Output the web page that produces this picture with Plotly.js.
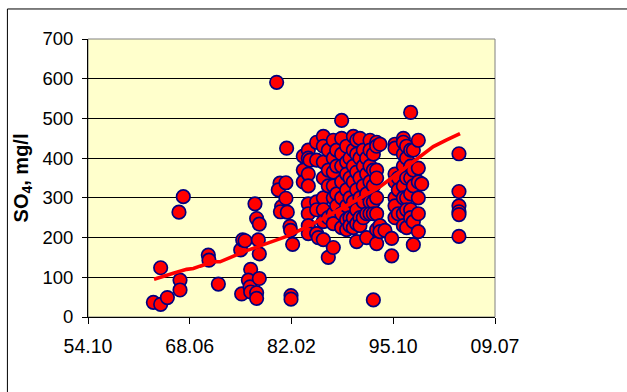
<!DOCTYPE html>
<html>
<head>
<meta charset="utf-8">
<script src="https://cdn.plot.ly/plotly-3.0.1.min.js"></script>
<style>
html,body{margin:0;padding:0;background:#fff;}
#chart{width:627px;height:392px;}
</style>
</head>
<body>
<div id="chart"></div>
<script>
// Sample dates (decimal years) and SO4 concentrations (mg/l)
const sampleYears = [
  1963.53,1964.51,1965.41,1964.51,1967.11,1967.11,1966.97,1967.55,1970.91,1971.00,
  1972.26,1975.26,1975.53,1975.84,1975.39,1976.60,1976.29,1976.51,1976.60,1977.18,
  1977.40,1977.76,1977.63,1977.76,1977.76,1977.40,1977.40,1980.09,1980.54,1980.31,
  1980.76,1980.60,1981.43,1981.34,1981.34,1981.52,1981.88,1981.97,1982.24,1982.02,
  1982.02,
  1983.67,1983.67,1983.67,
  1984.34,1984.34,1984.34,1984.34,1984.34,1984.34,1984.34,1984.34,1984.57,
  1985.46,1985.46,1985.46,1985.46,1985.46,1985.69,
  1986.36,1986.36,1986.36,1986.36,1986.36,1986.36,1986.36,1986.36,
  1987.03,1987.03,1987.03,1987.03,1987.03,
  1987.70,1987.70,1987.70,1987.70,1987.70,1987.70,1987.70,1987.70,
  1988.15,1988.15,1988.15,1988.15,
  1988.82,1988.82,1988.82,1988.82,1988.82,1988.82,1988.82,1988.82,
  1989.49,1989.49,1989.49,1989.49,1989.49,1989.49,1989.49,
  1989.94,1989.94,1989.94,1989.94,1989.94,
  1990.39,1990.39,1990.39,1990.39,1990.39,1990.39,1990.39,
  1990.84,1990.84,1990.84,1990.84,1990.84,1990.84,1990.84,
  1991.28,1991.28,1991.28,1991.28,1991.28,1991.28,
  1991.73,1991.73,1991.73,1991.73,1991.73,
  1992.18,1992.18,1992.18,1992.18,1992.18,
  1992.63,1992.63,1992.63,1992.63,1992.63,1992.63,
  1993.08,1993.08,1993.08,1993.08,1993.08,1993.08,
  1993.52,1993.52,1993.52,1993.52,1993.52,1993.52,1993.52,1993.52,
  1993.97,1993.97,1993.97,1994.64,
  1995.54,1995.54,
  1995.99,1995.99,1995.99,1995.99,1995.99,1995.99,1995.99,
  1996.43,1996.43,1996.43,
  1997.11,1997.11,1997.11,1997.11,1997.11,1997.11,1997.11,1997.11,
  1997.55,1997.55,1997.55,1997.55,1997.55,1997.55,
  1998.09,1998.09,1998.09,1998.09,1998.09,1998.09,1998.09,
  1998.45,1998.45,1998.45,1998.45,1998.45,
  1999.12,1999.12,1999.12,1999.12,1999.12,1999.12,1999.57,
  2004.58,2004.58,2004.58,2004.58,2004.58,2004.58
];
const so4Values = [
  37,32,49,124,93,68,264,303,156,143,
  83,169,194,192,58,120,93,76,63,285,
  248,234,194,159,97,61,47,591,337,320,
  278,265,425,338,299,264,228,218,183,54,
  45,
  405,370,340,
  420,400,360,330,285,260,230,210,395,
  440,395,290,270,210,200,
  455,430,390,350,300,270,240,195,
  420,370,330,250,150,
  445,400,365,330,300,260,235,175,
  420,380,310,280,
  495,450,410,380,340,300,260,225,
  430,390,360,320,280,245,220,
  400,350,300,250,230,
  455,420,380,340,290,250,225,
  445,410,365,320,270,235,190,
  450,400,350,300,250,230,
  420,380,330,290,250,
  400,360,310,260,200,
  445,420,380,340,290,260,
  410,370,330,290,260,43,
  440,430,370,350,300,260,220,185,
  435,230,215,218,
  198,154,
  435,425,360,340,300,280,250,
  350,320,260,
  450,440,410,380,330,300,260,230,
  430,400,350,300,270,225,
  515,420,380,350,310,270,250,
  420,370,330,240,182,
  445,375,340,300,260,215,335,
  411,316,280,265,258,203
];

// Trend line
const trendYears = [1963.62,1964.87,1966.21,1968.00,1968.90,1969.79,1971.58,1972.48,1974.27,1976.06,
  1977.85,1979.64,1981.43,1983.23,1985.02,1986.81,1988.60,1990.39,1992.18,1993.97,
  1995.76,1997.55,1999.34,2001.13,2002.93,2004.72];
const trendValues = [95,103,110,120,122,128,139,139,154,167,
  179,190,203,219,235,253,271,290,307,328,
  353,379,404,429,446,462];

// Axis ticks
const xStart = 1954.75, xEnd = 2009.42;
const xTickVals = [1954.75,1968.42,1982.08,1995.75,2009.42];
const xTickText = ["54.10","68.06","82.02","95.10","09.07"];
const yTickVals = [0,100,200,300,400,500,600,700];

const font = "Liberation Sans, Arial, sans-serif";

const traces = [
  {
    x: sampleYears, y: so4Values, type: "scatter", mode: "markers",
    marker: {size: 13.5, color: "#FF0000", line: {color: "#000080", width: 1.7}},
    hoverinfo: "x+y", cliponaxis: false
  },
  {
    x: trendYears, y: trendValues, type: "scatter", mode: "lines",
    line: {color: "#FF0000", width: 3.6}, hoverinfo: "skip"
  }
];

const layout = {
  width: 627, height: 392,
  margin: {l: 88, r: 132, t: 39, b: 75},
  paper_bgcolor: "#FFFFFF",
  plot_bgcolor: "#FFFFCC",
  showlegend: false,
  font: {family: font, color: "#000000"},
  xaxis: {
    range: [xStart, xEnd], tickmode: "array", tickvals: xTickVals, ticktext: xTickText,
    showgrid: false, zeroline: false, showline: true, linecolor: "#000000", linewidth: 1,
    ticks: "outside", ticklen: 6, tickcolor: "#000000", tickwidth: 1,
    tickfont: {family: font, size: 19.5, color: "#000000"}, ticklabelstandoff: 6
  },
  yaxis: {
    range: [0, 700], tickmode: "array", tickvals: yTickVals,
    showgrid: true, gridcolor: "#000000", gridwidth: 1, zeroline: false,
    showline: true, linecolor: "#000000", linewidth: 1,
    ticks: "outside", ticklen: 5, tickcolor: "#000000", tickwidth: 1,
    tickfont: {family: font, size: 18.5, color: "#000000"}, ticklabelstandoff: 5,
    title: {text: "<b>SO<sub>4</sub>, mg/l</b>", font: {family: font, size: 20, color: "#000000"}, standoff: 8}
  },
  shapes: [
    {type: "rect", xref: "paper", yref: "paper", x0: 0, x1: 1, y0: 0, y1: 1,
     line: {color: "#808080", width: 1}, layer: "between"},
    {type: "rect", xref: "paper", yref: "paper", x0: -0.198, x1: 1.4, y0: -0.4, y1: 1.108,
     line: {color: "#000000", width: 1}, fillcolor: "rgba(0,0,0,0)", layer: "above"}
  ]
};

Plotly.newPlot("chart", traces, layout, {displayModeBar: false, staticPlot: true});
</script>
</body>
</html>
